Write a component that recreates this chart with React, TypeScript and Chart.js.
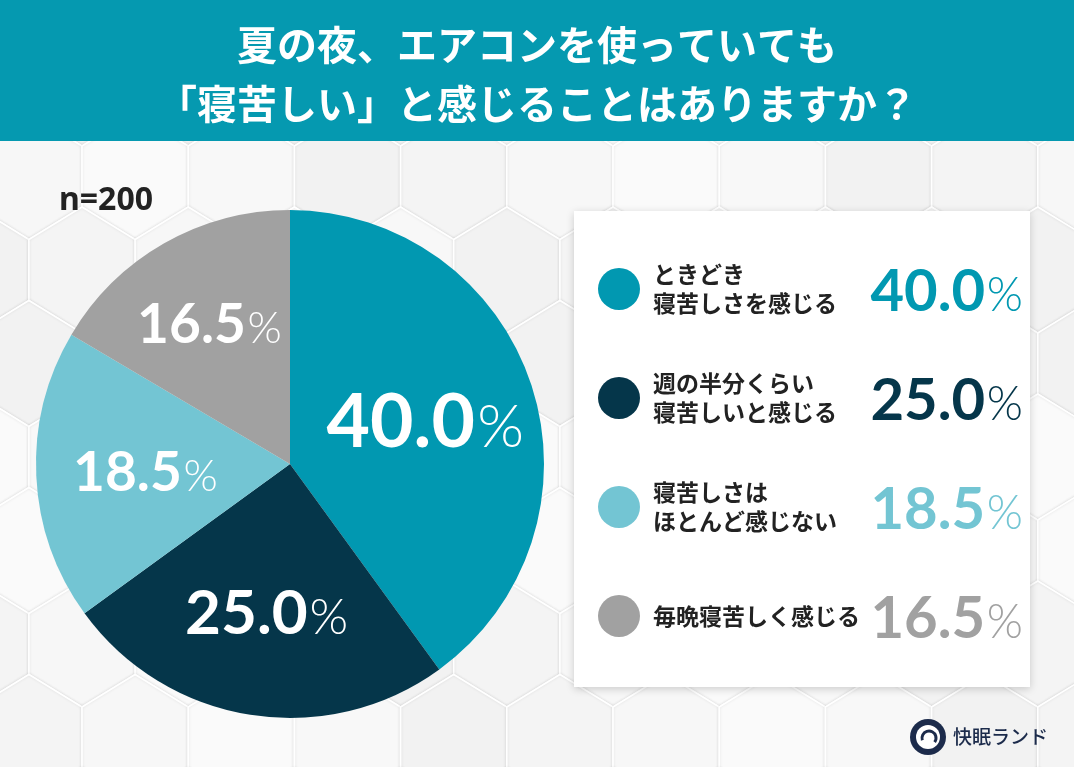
import React, { useEffect, useRef } from 'react';
import { Chart, registerables } from 'chart.js';

Chart.register(...registerables);

// ---- data ----
const titleLines = ['夏の夜、エアコンを使っていても', '「寝苦しい」と感じることはありますか？'];
const categories: string[][] = [
  ['ときどき', '寝苦しさを感じる'],
  ['週の半分くらい', '寝苦しいと感じる'],
  ['寝苦しさは', 'ほとんど感じない'],
  ['毎晩寝苦しく感じる'],
];
const values = [40.0, 25.0, 18.5, 16.5];
const sampleLabel = 'n=200';
const brandName = '快眠ランド';

// ---- styles ----
const colors = ['#0198b1', '#05364a', '#73c5d3', '#a1a1a1'];
const bannerColor = '#0599b0';
const labelRadius = [0.56, 0.59, 0.57, 0.64];
const labelNumSize = [75, 62, 55, 55];

const W = 1074;
const H = 767;

function drawPercent(
  ctx: CanvasRenderingContext2D,
  value: number,
  x: number,
  cy: number,
  numSize: number,
  color: string,
  align: 'center' | 'right'
) {
  const num = value.toFixed(1);
  const pctSize = numSize * 0.8;
  ctx.save();
  ctx.font = `700 ${numSize}px Lato`;
  const wN = ctx.measureText(num).width;
  ctx.font = `300 ${pctSize}px Lato`;
  const wP = ctx.measureText('%').width;
  const gap = numSize * 0.03;
  const total = wN + gap + wP;
  const left = align === 'center' ? x - total / 2 : x - total;
  const baseline = cy + (numSize * 0.72) / 2;
  ctx.fillStyle = color;
  ctx.textBaseline = 'alphabetic';
  ctx.textAlign = 'left';
  ctx.font = `700 ${numSize}px Lato`;
  ctx.fillText(num, left, baseline);
  ctx.font = `300 ${pctSize}px Lato`;
  ctx.fillText('%', left + wN + gap, baseline);
  ctx.restore();
}

const backgroundPlugin = {
  id: 'bgDecor',
  beforeDraw(chart: any) {
    const ctx: CanvasRenderingContext2D = chart.ctx;
    ctx.save();
    ctx.fillStyle = '#f5f5f5';
    ctx.fillRect(0, 0, W, H);
    // hexagon tiles
    const HW = 106.2;
    const a = 30.5;
    const h = 32.5;
    const dy = 93.5;
    const shades = ['#f7f7f7', '#f2f2f2', '#fafafa', '#f4f4f4', '#f8f8f8'];
    for (let r = -1; r <= 7; r++) {
      const cy = 176.5 + r * dy;
      const start = r % 2 === 0 ? 28.9 : 82;
      for (let k = -1; k <= 11; k++) {
        const cx = start + k * HW;
        ctx.beginPath();
        ctx.moveTo(cx, cy - a - h);
        ctx.lineTo(cx + HW / 2, cy - a);
        ctx.lineTo(cx + HW / 2, cy + a);
        ctx.lineTo(cx, cy + a + h);
        ctx.lineTo(cx - HW / 2, cy + a);
        ctx.lineTo(cx - HW / 2, cy - a);
        ctx.closePath();
        ctx.fillStyle = shades[Math.abs(r * 3 + k * 2) % shades.length];
        ctx.fill();
        ctx.save();
        ctx.shadowColor = 'rgba(0,0,0,0.10)';
        ctx.shadowBlur = 3;
        ctx.strokeStyle = '#ffffff';
        ctx.lineWidth = 1.6;
        ctx.stroke();
        ctx.restore();
      }
    }
    // banner
    ctx.fillStyle = bannerColor;
    ctx.fillRect(0, 0, W, 141);
    ctx.fillStyle = '#ffffff';
    ctx.font = '700 40px "Noto Sans CJK JP"';
    ctx.textAlign = 'center';
    ctx.textBaseline = 'middle';
    ctx.fillText(titleLines[0], W / 2, 45);
    ctx.fillText(titleLines[1], W / 2, 104);
    // sample size
    ctx.fillStyle = '#222222';
    ctx.font = '700 32px "Noto Sans"';
    ctx.textAlign = 'left';
    ctx.textBaseline = 'alphabetic';
    ctx.fillText(sampleLabel, 59, 210);
    ctx.restore();
  },
  afterDraw(chart: any) {
    const ctx: CanvasRenderingContext2D = chart.ctx;
    const meta = chart.getDatasetMeta(0);
    ctx.save();
    // labels in the pie
    meta.data.forEach((arc: any, i: number) => {
      const p = arc.getProps(['x', 'y', 'startAngle', 'endAngle', 'outerRadius'], true);
      const mid = (p.startAngle + p.endAngle) / 2;
      const r = p.outerRadius * labelRadius[i];
      const lx = p.x + Math.cos(mid) * r;
      const ly = p.y + Math.sin(mid) * r;
      drawPercent(ctx, values[i], lx, ly, labelNumSize[i], '#ffffff', 'center');
    });

    // legend panel
    const px = 574, py = 211, pw = 456, ph = 476;
    ctx.save();
    ctx.shadowColor = 'rgba(0,0,0,0.18)';
    ctx.shadowBlur = 8;
    ctx.shadowOffsetY = 2;
    ctx.fillStyle = '#ffffff';
    ctx.fillRect(px, py, pw, ph);
    ctx.restore();

    categories.forEach((lines, i) => {
      const rowY = py + 78 + i * 109;
      ctx.beginPath();
      ctx.arc(619, rowY, 21, 0, Math.PI * 2);
      ctx.fillStyle = colors[i];
      ctx.fill();
      ctx.fillStyle = '#222222';
      ctx.font = '700 23px "Noto Sans CJK JP"';
      ctx.textAlign = 'left';
      ctx.textBaseline = 'middle';
      const lh = 29;
      const top = rowY - ((lines.length - 1) * lh) / 2;
      lines.forEach((ln, j) => ctx.fillText(ln, 653, top + j * lh));
      drawPercent(ctx, values[i], 1023, rowY + 1, 58, colors[i], 'right');
    });

    // brand logo
    const lx = 928, ly = 737;
    ctx.beginPath();
    ctx.arc(lx, ly, 18, 0, Math.PI * 2);
    ctx.fillStyle = '#1c2b4b';
    ctx.fill();
    ctx.beginPath();
    ctx.arc(lx, ly, 12, 0, Math.PI * 2);
    ctx.fillStyle = '#ffffff';
    ctx.fill();
    ctx.beginPath();
    ctx.arc(lx + 1, ly + 1, 7, Math.PI * 0.9, Math.PI * 2.2);
    ctx.strokeStyle = '#1c2b4b';
    ctx.lineWidth = 3;
    ctx.stroke();
    ctx.fillStyle = '#1c2b4b';
    ctx.font = '500 19px "Noto Sans CJK JP"';
    ctx.textAlign = 'left';
    ctx.textBaseline = 'middle';
    ctx.fillText(brandName, 953, ly);
    ctx.restore();
  },
};

export default function App() {
  const ref = useRef<HTMLCanvasElement | null>(null);
  useEffect(() => {
    if (!ref.current) return;
    const chart = new Chart(ref.current, {
      type: 'pie',
      data: {
        labels: categories.map((c) => c.join('')),
        datasets: [
          {
            data: values,
            backgroundColor: colors,
            borderWidth: 0,
          },
        ],
      },
      options: {
        responsive: false,
        devicePixelRatio: 1,
        animation: false,
        layout: { padding: { left: 36, right: 530, top: 210, bottom: 49 } },
        plugins: {
          legend: { display: false },
          tooltip: { enabled: false },
        },
      },
      plugins: [backgroundPlugin],
    });
    return () => chart.destroy();
  }, []);
  return (
    <div style={{ position: 'fixed', left: 0, top: 0, width: W, height: H }}>
      <canvas ref={ref} width={W} height={H} style={{ width: W, height: H, display: 'block' }} />
    </div>
  );
}
